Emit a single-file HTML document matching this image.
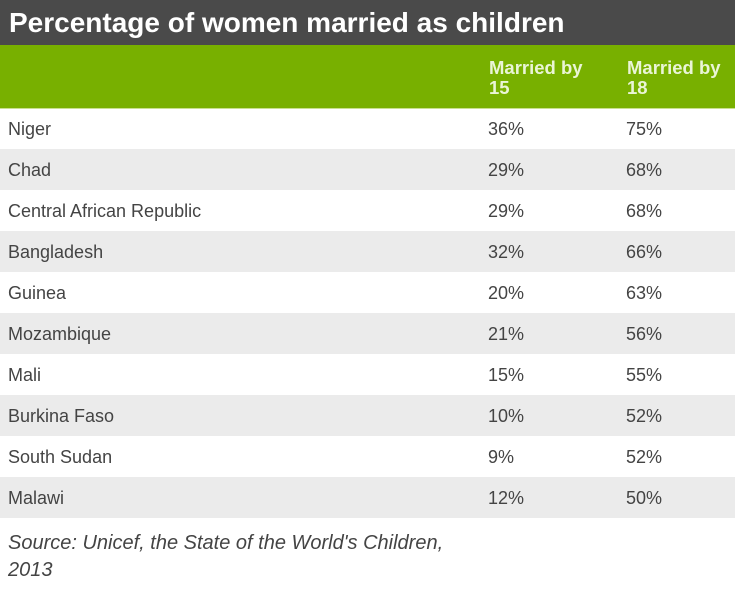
<!DOCTYPE html>
<html>
<head>
<meta charset="utf-8">
<style>
  html, body { margin:0; padding:0; }
  body { width:735px; height:591px; background:#ffffff; position:relative; overflow:hidden;
         font-family:"Liberation Sans", Arial, sans-serif; }
  .title { position:absolute; left:0; top:0; width:735px; height:45px; background:#4a4a4a;
           color:#ffffff; font-weight:bold; font-size:28px; line-height:45px; }
  .title span { position:absolute; left:9px; top:0; white-space:nowrap; }
  .head { position:absolute; left:0; top:45px; width:735px; height:63px; background:#78b000;
          border-bottom:1px solid #c9e08f; }
  .hcell { position:absolute; top:13px; color:#eaf5d6; font-weight:bold; font-size:18.5px; line-height:20px; }
  .row { position:absolute; left:0; width:735px; height:41px; color:#444444; font-size:18px; line-height:41px; }
  .row.g { background:#ebebeb; }
  .row span { position:absolute; top:1px; white-space:nowrap; }
  .c0 { left:8px; }
  .c1 { left:488px; }
  .c2 { left:626px; }
  .src { position:absolute; left:8px; top:530px; color:#444444; font-style:italic; font-size:20px; line-height:27px; white-space:nowrap; }
</style>
</head>
<body>
  <div class="title"><span>Percentage of women married as children</span></div>
  <div class="head">
    <div class="hcell" style="left:489px;">Married by<br>15</div>
    <div class="hcell" style="left:627px;">Married by<br>18</div>
  </div>

  <div class="row" style="top:108px;"><span class="c0">Niger</span><span class="c1">36%</span><span class="c2">75%</span></div>
  <div class="row g" style="top:149px;"><span class="c0">Chad</span><span class="c1">29%</span><span class="c2">68%</span></div>
  <div class="row" style="top:190px;"><span class="c0">Central African Republic</span><span class="c1">29%</span><span class="c2">68%</span></div>
  <div class="row g" style="top:231px;"><span class="c0">Bangladesh</span><span class="c1">32%</span><span class="c2">66%</span></div>
  <div class="row" style="top:272px;"><span class="c0">Guinea</span><span class="c1">20%</span><span class="c2">63%</span></div>
  <div class="row g" style="top:313px;"><span class="c0">Mozambique</span><span class="c1">21%</span><span class="c2">56%</span></div>
  <div class="row" style="top:354px;"><span class="c0">Mali</span><span class="c1">15%</span><span class="c2">55%</span></div>
  <div class="row g" style="top:395px;"><span class="c0">Burkina Faso</span><span class="c1">10%</span><span class="c2">52%</span></div>
  <div class="row" style="top:436px;"><span class="c0">South Sudan</span><span class="c1">9%</span><span class="c2">52%</span></div>
  <div class="row g" style="top:477px;"><span class="c0">Malawi</span><span class="c1">12%</span><span class="c2">50%</span></div>

  <div class="src">Source: Unicef, the State of the World's Children,<br>2013</div>
</body>
</html>
